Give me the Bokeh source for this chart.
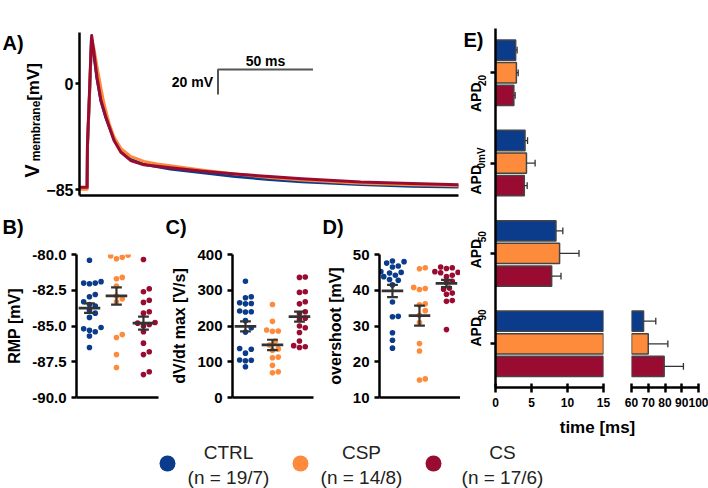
import numpy as np
from bokeh.plotting import figure
from bokeh.models import Range1d, FixedTicker, Label, ColumnDataSource, NumeralTickFormatter
from bokeh.layouts import row, column
from bokeh.embed import file_html
from bokeh.resources import INLINE
from bokeh.core.properties import value

FONT = "Liberation Sans"

# ---------------- data ----------------
groups = ["CTRL", "CSP", "CS"]
group_n = ["(n = 19/7)", "(n = 14/8)", "(n = 17/6)"]
colors = ["#0b3b8b", "#fd8b3b", "#990b31"]

# A) mean action potential traces (time ms, membrane potential mV)
t_ctrl = [0, 4.0, 4.2, 5.3, 6.0, 6.3, 7.45, 9.2, 11.3, 13.9, 18.2, 21.7, 26.9, 33.9, 47.8, 65, 82, 100, 117, 148, 175, 202]
v_ctrl = [-84.0, -84.0, -50, -8, 22, 36, 25, 4, -14, -27.5, -45, -54, -60.8, -64.8, -68.5, -71.6, -74.6, -77, -78.8, -81, -82.3, -83.0]
t_csp = [0, 4.0, 4.2, 5.3, 6.0, 6.5, 7.6, 9.5, 11.3, 13.0, 15.6, 18.2, 21.7, 26.9, 33.9, 40.9, 47.8, 65, 82, 100, 117, 148, 175, 202]
v_csp = [-84.8, -84.8, -50, -8, 22, 35, 28, 11, -4, -17, -32, -43, -52, -58.5, -62.5, -64.5, -66, -69.6, -72.6, -75.3, -77.3, -79.9, -81.1, -82.1]
t_cs = [0, 4.0, 4.2, 5.3, 6.0, 6.4, 7.45, 9.2, 11.3, 13.9, 18.2, 21.7, 26.9, 33.9, 47.8, 65, 82, 100, 117, 148, 175, 202]
v_cs = [-83.2, -83.2, -48, -5, 25, 38.5, 26.5, 5, -13.6, -27, -45.7, -55, -61.7, -65.2, -67.6, -70.3, -72.6, -74.6, -76.4, -78.9, -80.1, -81.2]

# B) resting membrane potential (mV)
rmp_ctrl = [-80.4, -82.0, -82.05, -82.0, -81.9, -82.8, -82.95, -83.3, -83.5, -83.6, -83.9, -84.1, -84.4, -85.1, -85.3, -85.4, -85.2, -85.7, -86.5]
rmp_csp = [-80.1, -80.3, -80.2, -80.05, -81.6, -81.7, -82.2, -82.9, -83.1, -83.3, -85.8, -85.6, -87.0, -87.9]
rmp_cs = [-80.35, -82.4, -82.6, -83.2, -83.35, -84.0, -84.1, -84.8, -84.9, -84.75, -85.0, -85.4, -86.2, -86.8, -87.0, -88.2, -88.4]
rmp_mean = [-83.75, -82.9, -84.8]
rmp_sem = [0.33, 0.6, 0.45]

# C) dV/dt max (V/s)
dvdt_ctrl = [325, 282, 279, 265, 263, 262, 242, 240, 239, 215, 195, 183, 137, 135, 124, 105, 104, 103, 86]
dvdt_csp = [260, 213, 189, 186, 185, 158, 147, 136, 132, 113, 111, 90, 72, 69]
dvdt_cs = [337, 336, 296, 294, 268, 262, 240, 235, 222, 218, 200, 195, 182, 158, 145, 142, 140]
dvdt_mean = [199, 147, 226]
dvdt_sem = [14, 14.5, 14]

# D) overshoot (mV)
os_ctrl = [48.2, 48.0, 47.6, 46.5, 46.8, 45.0, 44.8, 45.2, 44.2, 43.8, 43.0, 42.8, 41.5, 36.7, 32.7, 32.6, 28.1, 26.0, 23.8]
os_csp = [46.3, 46.0, 40.8, 40.2, 40.5, 36.2, 35.9, 34.3, 33.0, 31.0, 25.1, 23.0, 15.2, 14.9]
os_cs = [46.5, 46.3, 46.1, 45.2, 45.0, 44.9, 44.2, 43.8, 42.5, 42.2, 40.6, 40.3, 39.2, 38.9, 37.1, 36.9, 29.0]
os_mean = [39.8, 32.9, 41.9]
os_sem = [1.7, 2.8, 1.0]

# E) action potential durations (ms)
apd_subs = ["20", "0mV", "50", "90"]
apd_ctrl = [2.8, 4.1, 8.4, 67.2]
apd_ctrl_err = [0.2, 0.35, 0.95, 7.3]
apd_csp = [2.9, 4.3, 8.9, 70.0]
apd_csp_err = [0.25, 1.2, 2.7, 11.7]
apd_cs = [2.55, 4.0, 7.8, 79.5]
apd_cs_err = [0.18, 0.4, 1.3, 11.5]

# ---------------- helpers ----------------
def base_fig(**kw):
    p = figure(output_backend="svg", toolbar_location=None, **kw)
    p.grid.visible = False
    p.outline_line_color = None
    p.background_fill_color = "white"
    p.border_fill_color = "white"
    return p


def text_fig(width, height):
    """A blank strip whose frame is the whole canvas, in pixel units."""
    return base_fig(width=width, height=height, x_range=Range1d(0, width), y_range=Range1d(0, height),
                    min_border=0, x_axis_location=None, y_axis_location=None)


def put(p, text, x_px, y_px, size, angle=0.0, align="left", baseline="middle", style="bold", color="black"):
    h = p.y_range.end
    p.add_layout(Label(x=x_px, y=h - y_px, text=text, angle=angle, text_font=FONT,
                       text_font_style=style, text_font_size=size, text_baseline=baseline,
                       text_align=align, text_color=color))


def style_axis(ax, size="15px"):
    ax.axis_line_width = 2.5
    ax.axis_line_color = "black"
    ax.major_tick_line_width = 2.5
    ax.major_tick_line_color = "black"
    ax.major_tick_out = 5
    ax.major_tick_in = 0
    ax.minor_tick_line_color = None
    ax.major_label_text_font = FONT
    ax.major_label_text_font_style = "bold"
    ax.major_label_text_font_size = size
    ax.major_label_text_color = "black"
    ax.axis_label_text_font = FONT
    ax.axis_label_text_font_style = "bold"
    ax.axis_label_text_font_size = "16px"
    ax.axis_label_text_color = "black"


def bare_axis(ax):
    ax.ticker = FixedTicker(ticks=[])
    ax.axis_line_width = 2.5
    ax.axis_line_color = "black"
    ax.major_tick_line_color = None
    ax.minor_tick_line_color = None


def swarm(vals, center, ppu_x, ppu_y, d=5.8):
    vals = np.asarray(vals, float)
    order = np.argsort(vals)
    placed = []
    xs = np.zeros(len(vals))
    cands = [0.0]
    for m in range(1, 14):
        cands += [m * d / 2, -m * d / 2]
    for i in order:
        py = vals[i] * ppu_y
        for c in cands:
            if all((c - qx) ** 2 + (py - qy) ** 2 >= 0.97 * d * d for qx, qy in placed):
                placed.append((c, py))
                xs[i] = center + c / ppu_x
                break
    return xs


# ---------------- panel A ----------------
A_LAB_W, A_LEFT, A_TOP, A_H, A_W = 43, 75, 32, 210, 460
A_YR = (-89.8, 40.9)
A_PPU_X = 1.92

pA_lab = text_fig(A_LAB_W, A_H)
put(pA_lab, "A)", 2, 13, "20px")
# rotated y label pieces: (text, x anchor, bottom end y, size)
for txt, xs, start_px, size in [("V", 31.5, 187, "20px"), ("membrane", 35, 166, "12px"), ("[mV]", 32.5, 88, "17px")]:
    put(pA_lab, txt, xs, start_px, size, angle=np.pi / 2, baseline="middle")

pA = base_fig(width=A_W - A_LAB_W, height=A_H, x_range=Range1d(0, (A_W - 2 - A_LEFT) / A_PPU_X),
              y_range=Range1d(*A_YR), min_border_left=A_LEFT - A_LAB_W, min_border_right=2,
              min_border_top=A_TOP, min_border_bottom=15)
style_axis(pA.yaxis[0], "16px")
pA.yaxis.ticker = FixedTicker(ticks=[-85, 0])
pA.yaxis.major_tick_out = 4
pA.yaxis.major_label_standoff = 2
pA.yaxis.axis_label_standoff = 0
bare_axis(pA.xaxis[0])
for t, v, c in [(t_ctrl, v_ctrl, colors[0]), (t_csp, v_csp, colors[1]), (t_cs, v_cs, colors[2])]:
    pA.line(t, v, line_color=c, line_width=3, line_join="round")

# scale bar
sb_t, sb_v, sb_dt, sb_dv = 72.9, 11.2, 50, 20
pA.line([sb_t + sb_dt, sb_t, sb_t], [sb_v, sb_v, sb_v - sb_dv], line_color="#555555", line_width=2)
pA.add_layout(Label(x=sb_t - 2.6, y=sb_v - sb_dv / 2, text="20 mV", text_align="right",
                    text_baseline="middle", text_font=FONT, text_font_style="bold",
                    text_font_size="14px", text_color="black"))
pA.add_layout(Label(x=sb_t + sb_dt / 2, y=sb_v + 7, text="50 ms", text_align="center",
                    text_baseline="middle", text_font=FONT, text_font_style="bold",
                    text_font_size="14px", text_color="black"))

# ---------------- panels B, C, D ----------------
STRIP_H = 30
ROW_H, FR_TOP, FR_BOT = 175, 14, 18
PPU_X = 27.0

pLetters = text_fig(A_W, STRIP_H)
for letter, lx in [("B)", 2), ("C)", 165), ("D)", 322)]:
    put(pLetters, letter, lx, 16, "20px")


def scatter_panel(width, bl, br, yr, ticks, label, data_lists, means, sems, fmt=None):
    frame_w = width - bl - br
    x0 = 0.52
    p = base_fig(width=width, height=ROW_H, x_range=Range1d(x0, x0 + frame_w / PPU_X),
                 y_range=Range1d(*yr), min_border_left=bl, min_border_right=br,
                 min_border_top=FR_TOP, min_border_bottom=FR_BOT)
    ppu_y = (ROW_H - FR_TOP - FR_BOT) / (yr[1] - yr[0])
    style_axis(p.yaxis[0], "15px")
    p.yaxis.ticker = FixedTicker(ticks=ticks)
    if fmt:
        p.yaxis.formatter = NumeralTickFormatter(format=fmt)
    p.yaxis.axis_label = label
    p.yaxis.axis_label_standoff = 6
    bare_axis(p.xaxis[0])
    for j, vals in enumerate(data_lists):
        xs = swarm(vals, j + 1, PPU_X, ppu_y)
        p.scatter(xs, vals, size=5.6, fill_color=colors[j], line_color=None)
    cx = np.arange(1, len(means) + 1)
    m = np.asarray(means)
    s = np.asarray(sems)
    p.segment(cx - 0.4, m, cx + 0.4, m, line_color="#333333", line_width=2.8)
    p.segment(cx, m - s, cx, m + s, line_color="#333333", line_width=2.2)
    p.segment(cx - 0.2, m + s, cx + 0.2, m + s, line_color="#333333", line_width=2.2)
    p.segment(cx - 0.2, m - s, cx + 0.2, m - s, line_color="#333333", line_width=2.2)
    return p


pB = scatter_panel(160, 76, 2, (-90, -80), [-90, -87.5, -85, -82.5, -80], "RMP [mV]",
                   [rmp_ctrl, rmp_csp, rmp_cs], rmp_mean, rmp_sem, fmt="0.0")
pC = scatter_panel(155, 72, 2, (0, 400), [0, 100, 200, 300, 400], "dV/dt max [V/s]",
                   [dvdt_ctrl, dvdt_csp, dvdt_cs], dvdt_mean, dvdt_sem)
pD = scatter_panel(145, 64, 0, (10, 50), [10, 20, 30, 40, 50], "overshoot [mV]",
                   [os_ctrl, os_csp, os_cs], os_mean, os_sem)

# ---------------- panel E ----------------
E_H, E_TOP, E_BOT = 415, 28, 28
E_LAB_W = 29
apd_centers = [12, 8, 4, 0]
E_YR = (-1.935, 13.96)
E_PPU = (E_H - E_TOP - E_BOT) / (E_YR[1] - E_YR[0])
BAR_H = 0.9

all_vals = [apd_ctrl, apd_csp, apd_cs]
all_errs = [apd_ctrl_err, apd_csp_err, apd_cs_err]


def e_fig(width, bl, br, xr, ticks, with_y):
    p = base_fig(width=width, height=E_H, x_range=Range1d(*xr), y_range=Range1d(*E_YR),
                 min_border_left=bl, min_border_right=br, min_border_top=E_TOP,
                 min_border_bottom=E_BOT, y_axis_location="left" if with_y else None)
    style_axis(p.xaxis[0], "12px")
    p.xaxis.ticker = FixedTicker(ticks=ticks)
    p.xaxis.major_tick_out = 5
    p.xaxis.major_tick_in = 4
    p.xaxis.axis_label_standoff = 0
    if with_y:
        style_axis(p.yaxis[0], "12px")
        p.yaxis.ticker = FixedTicker(ticks=apd_centers)
        p.yaxis.major_label_overrides = {c: "" for c in apd_centers}
        p.yaxis.major_label_standoff = 0
        p.yaxis.axis_label_standoff = 0
    return p


pE_lab = text_fig(E_LAB_W, E_H)
pEL = e_fig(157 - E_LAB_W, 35 - E_LAB_W, 14, (0, 15), [0, 5, 10, 15], True)
pER = e_fig(91, 14, 10, (60, 100), [60, 70, 80, 90, 100], False)

for j in range(3):
    ys = np.array(apd_centers, float) + (1 - j)
    v = np.array(all_vals[j], float)
    e = np.array(all_errs[j], float)
    # left segment (0-15)
    pEL.hbar(y=ys, left=0, right=np.minimum(v, 15), height=BAR_H, fill_color=colors[j],
             line_color="#454545", line_width=1.5)
    small = v < 15
    pEL.segment(v[small], ys[small], v[small] + e[small], ys[small], line_color="#333333", line_width=1.3)
    pEL.segment(v[small] + e[small], ys[small] - 0.15, v[small] + e[small], ys[small] + 0.15,
                line_color="#333333", line_width=1.3)
    # right segment (60-100)
    big = v > 60
    pER.hbar(y=ys[big], left=60, right=v[big], height=BAR_H, fill_color=colors[j],
             line_color="#454545", line_width=1.5)
    pER.segment(v[big], ys[big], v[big] + e[big], ys[big], line_color="#333333", line_width=1.3)
    pER.segment(v[big] + e[big], ys[big] - 0.15, v[big] + e[big], ys[big] + 0.15,
                line_color="#333333", line_width=1.3)

CW = {"A": .722, "P": .667, "D": .722, "m": .889, "V": .667}


def tw(s, size):
    return sum(CW.get(ch, .556) for ch in s) * size


put(pE_lab, "E)", 3, 13, "20px")
for c, sub in zip(apd_centers, apd_subs):
    tick_px = E_TOP + (E_YR[1] - c) * E_PPU
    L = tw("APD", 14) + tw(sub, 10)
    start = tick_px + 4 + L / 2
    put(pE_lab, "APD", 15.5, start, "14px", angle=np.pi / 2, baseline="middle")
    put(pE_lab, sub, 21.0, start - tw("APD", 14) - 0.5, "10px", angle=np.pi / 2, baseline="middle")

# ---------------- legend strip ----------------
LEG_W, LEG_H = 708, 73
pL = base_fig(width=LEG_W, height=LEG_H, x_range=Range1d(0, LEG_W), y_range=Range1d(LEG_H, 0),
              min_border=0, x_axis_location=None, y_axis_location=None)
leg_circle_x = [167, 300, 433]
leg_text_x = [228, 361, 502]
src = ColumnDataSource(dict(cx=leg_circle_x, tx=leg_text_x, name=groups, n=group_n, color=colors))
pL.scatter(x="cx", y=48, size=16, fill_color="color", line_color=None, source=src)
pL.text(x="tx", y=37, text="name", source=src, text_font=value(FONT), text_font_size=value("19px"),
        text_align="center", text_baseline="middle", text_color="#222222")
pL.text(x="tx", y=62, text="n", source=src, text_font=value(FONT), text_font_size=value("19px"),
        text_align="center", text_baseline="middle", text_color="#222222")
pL.add_layout(Label(x=597, y=12, text="time [ms]", text_align="center", text_baseline="middle",
                    text_font=FONT, text_font_style="bold", text_font_size="17px",
                    text_color="black"))

left_col = column(row(pA_lab, pA), pLetters, row(pB, pC, pD))
layout = column(row(left_col, pE_lab, pEL, pER), pL)
open("out.html", "w").write(file_html(layout, INLINE))
